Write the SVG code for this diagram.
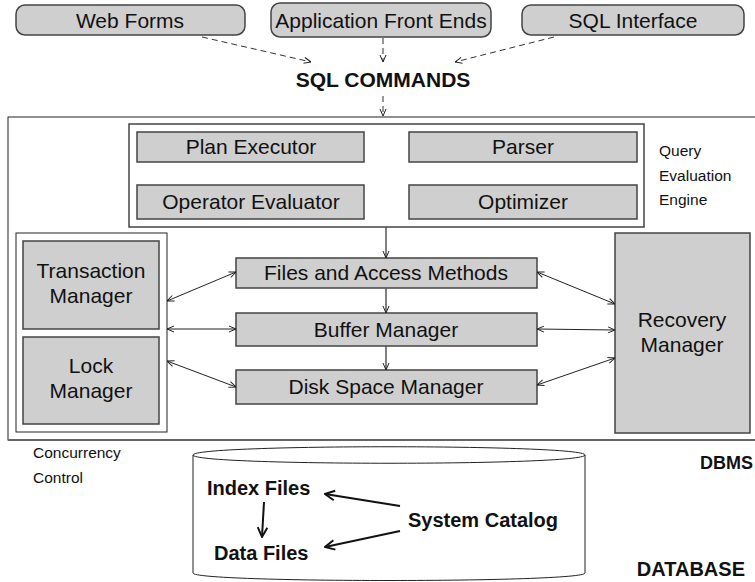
<svg xmlns="http://www.w3.org/2000/svg" width="755" height="582" viewBox="0 0 755 582">
<style>
text{font-family:"Liberation Sans",Arial,sans-serif;fill:#111}
.t{font-size:21px;text-anchor:middle}
.m{font-size:21px;text-anchor:middle}
.s{font-size:15.5px}
.b{font-weight:bold}
.box{fill:#cfcfcf;stroke:#444;stroke-width:1.5}
.frame{fill:#fff;stroke:#444;stroke-width:1.5}
.ln{stroke:#222;stroke-width:1;fill:none}
.gl{stroke:#555;stroke-width:1.5;fill:none}
.dash{stroke:#333;stroke-width:1;fill:none;stroke-dasharray:6 4}
.bk{stroke:#111;stroke-width:2;fill:none}
</style>
<defs>
<marker id="a" viewBox="0 0 8 8" refX="8" refY="4" markerWidth="8" markerHeight="8" markerUnits="userSpaceOnUse" orient="auto-start-reverse"><path d="M1,1 L8,4 L1,7" fill="none" stroke="#222" stroke-width="1"/></marker>
<marker id="ab" viewBox="0 0 10 10" refX="9" refY="5" markerWidth="12" markerHeight="12" markerUnits="userSpaceOnUse" orient="auto"><path d="M1,1 L9,5 L1,9" fill="none" stroke="#111" stroke-width="1.6"/></marker>
</defs>
<rect x="0" y="0" width="755" height="582" fill="#fff"/>

<g id="dbms-frame">
<rect x="8" y="117" width="760" height="323" fill="#fff" stroke="#222" stroke-width="1"/>
<line x1="8" y1="440" x2="755" y2="440" stroke="#666" stroke-width="2"/>
</g>

<g id="web-forms"><rect class="box" x="16" y="5" width="229" height="30" rx="9"/><text class="t" x="130" y="28">Web Forms</text></g>
<g id="app-front-ends"><rect class="box" x="271" y="3" width="220" height="34" rx="9"/><text class="t" x="381" y="28">Application Front Ends</text></g>
<g id="sql-interface"><rect class="box" x="522" y="5" width="222" height="30" rx="9"/><text class="t" x="633" y="28">SQL Interface</text></g>
<g id="sql-commands"><text class="t b" x="383" y="87">SQL COMMANDS</text></g>

<g id="query-engine">
<rect class="frame" x="129" y="124" width="515" height="103"/>
<text class="s" x="659" y="156">Query</text>
<text class="s" x="659" y="181">Evaluation</text>
<text class="s" x="659" y="205">Engine</text>
</g>
<g id="plan-executor"><rect class="box" x="137" y="132" width="227" height="30"/><text class="m" x="251" y="154">Plan Executor</text></g>
<g id="parser"><rect class="box" x="409" y="132" width="228" height="30"/><text class="m" x="523" y="154">Parser</text></g>
<g id="operator-evaluator"><rect class="box" x="137" y="185" width="227" height="34"/><text class="m" x="251" y="209">Operator Evaluator</text></g>
<g id="optimizer"><rect class="box" x="409" y="185" width="228" height="34"/><text class="m" x="523" y="209">Optimizer</text></g>

<g id="concurrency-control">
<rect x="16" y="233" width="151" height="199" fill="#fff" stroke="#222" stroke-width="1"/>
<text class="s" x="33" y="458">Concurrency</text>
<text class="s" x="33" y="483">Control</text>
</g>
<g id="transaction-manager"><rect class="box" x="23" y="241" width="136" height="88"/><text class="t" x="91" y="278">Transaction</text><text class="t" x="91" y="303">Manager</text></g>
<g id="lock-manager"><rect class="box" x="23" y="337" width="136" height="87"/><text class="t" x="91" y="373">Lock</text><text class="t" x="91" y="398">Manager</text></g>

<g id="files-access"><rect class="box" x="236" y="258" width="301" height="30"/><text class="m" x="386" y="280">Files and Access Methods</text></g>
<g id="buffer-manager"><rect class="box" x="236" y="313" width="301" height="33"/><text class="m" x="386" y="337">Buffer Manager</text></g>
<g id="disk-space-manager"><rect class="box" x="236" y="370" width="301" height="34"/><text class="m" x="386" y="394">Disk Space Manager</text></g>

<g id="recovery-manager"><rect class="box" x="615" y="233" width="135" height="200"/><text class="t" x="682" y="327">Recovery</text><text class="t" x="682" y="352">Manager</text></g>

<g id="dbms-label"><text class="b" x="753" y="469" text-anchor="end" style="font-size:18px">DBMS</text></g>

<g id="database">
<path d="M193,455 C193,444 585,444 585,455 L585,573 C585,583 193,583 193,573 Z" fill="#fff" stroke="#222" stroke-width="1"/>
<path d="M193,455 C193,466 585,466 585,455" fill="none" stroke="#222" stroke-width="1"/>
<text class="b" x="745" y="576" text-anchor="end" style="font-size:20px">DATABASE</text>
</g>
<g id="index-files"><text class="b" x="207" y="495" style="font-size:20px">Index Files</text></g>
<g id="data-files"><text class="b" x="214" y="560" style="font-size:20px">Data Files</text></g>
<g id="system-catalog"><text class="b" x="408" y="527" style="font-size:20px">System Catalog</text></g>

<g id="connectors">
<line class="dash" x1="202" y1="37" x2="311" y2="62" marker-end="url(#a)"/>
<line class="dash" x1="383" y1="38" x2="383" y2="62" marker-end="url(#a)"/>
<line class="dash" x1="554" y1="37" x2="455" y2="62" marker-end="url(#a)"/>
<line class="dash" x1="383" y1="96" x2="383" y2="116" marker-end="url(#a)"/>

<line class="gl" x1="386" y1="227" x2="386" y2="258" marker-end="url(#a)"/>
<line class="gl" x1="386" y1="288" x2="386" y2="313" marker-end="url(#a)"/>
<line class="gl" x1="386" y1="346" x2="386" y2="370" marker-end="url(#a)"/>

<line class="ln" x1="167" y1="301" x2="236" y2="272" marker-start="url(#a)" marker-end="url(#a)"/>
<line class="ln" x1="167" y1="329" x2="236" y2="329" marker-start="url(#a)" marker-end="url(#a)"/>
<line class="ln" x1="167" y1="361" x2="236" y2="387" marker-start="url(#a)" marker-end="url(#a)"/>

<line class="ln" x1="537" y1="272" x2="615" y2="304" marker-start="url(#a)" marker-end="url(#a)"/>
<line class="ln" x1="537" y1="329" x2="615" y2="330" marker-start="url(#a)" marker-end="url(#a)"/>
<line class="ln" x1="537" y1="385" x2="615" y2="358" marker-start="url(#a)" marker-end="url(#a)"/>

<line class="bk" x1="400" y1="506" x2="325" y2="494" marker-end="url(#ab)"/>
<line class="bk" x1="400" y1="531" x2="325" y2="547" marker-end="url(#ab)"/>
<line class="bk" x1="264" y1="502" x2="262" y2="537" marker-end="url(#ab)"/>
</g>
</svg>
